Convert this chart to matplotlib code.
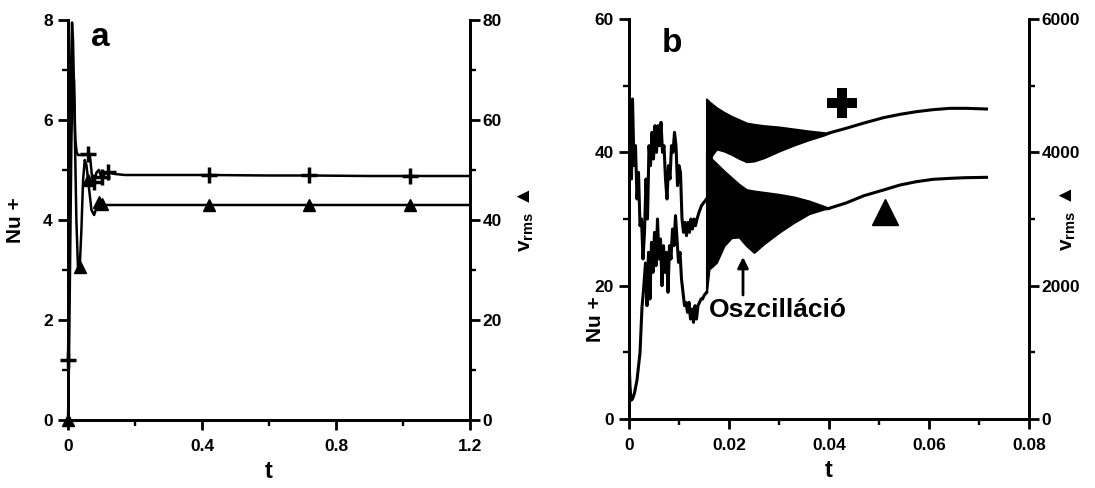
import numpy as np
from matplotlib import pyplot as plt

plt.rcParams['font.family'] = ['Liberation Sans', 'DejaVu Sans']
plt.rcParams['font.weight'] = 'bold'
plt.rcParams['axes.labelweight'] = 'bold'
plt.rcParams['mathtext.default'] = 'bf'

# ---- panel a data ----
t_nu_a = [0, 0.003, 0.006, 0.009, 0.012, 0.015, 0.018, 0.022, 0.026, 0.03, 0.04, 0.05,
          0.06, 0.066, 0.072, 0.078, 0.085, 0.092, 0.1, 0.11, 0.12, 0.14, 0.17, 0.2,
          0.3, 0.42, 0.6, 0.72, 0.9, 1.02, 1.2]
nu_a = [1.2, 2.8, 5.0, 7.0, 7.95, 7.6, 6.6, 5.6, 5.35, 5.3, 5.3, 5.3,
        5.32, 5.25, 4.85, 4.75, 4.95, 5.0, 4.85, 4.92, 4.95, 4.92, 4.9, 4.9,
        4.9, 4.9, 4.89, 4.89, 4.88, 4.88, 4.88]
nu_a_marks = [0, 12, 15, 18, 20, 25, 27, 29]

t_v_a = [0, 0.003, 0.006, 0.01, 0.014, 0.018, 0.021, 0.025, 0.03, 0.035, 0.04, 0.045,
         0.05, 0.055, 0.06, 0.065, 0.07, 0.078, 0.085, 0.092, 0.1, 0.11, 0.12, 0.15,
         0.2, 0.42, 0.72, 1.02, 1.2]
v_a = [0, 12, 30, 55, 70, 68, 55, 40, 30, 30.5, 38, 48,
       52, 51, 48, 45, 42, 41, 42.5, 43.5, 43.2, 43, 43, 43,
       43, 43, 43, 43, 43]
v_a_marks = [0, 9, 14, 19, 20, 25, 26, 27]

# ---- panel b data ----
t_nu_b = [0, 0.0003, 0.0005, 0.0007, 0.001, 0.0013, 0.0016, 0.0019, 0.0022, 0.0025,
          0.0028, 0.0031, 0.0034, 0.0037, 0.004, 0.0043, 0.0046, 0.0049, 0.0052, 0.0055,
          0.0058, 0.0061, 0.0064, 0.0067, 0.007, 0.0073, 0.0076, 0.0079, 0.0082, 0.0085,
          0.0088, 0.0091, 0.0094, 0.0097, 0.01, 0.0103, 0.0106, 0.0109, 0.0112, 0.0115,
          0.0118, 0.0121, 0.0124, 0.0127, 0.013, 0.0133, 0.0136, 0.014, 0.0145, 0.015,
          0.0155]
nu_b = [34, 47, 36, 48, 38, 41, 33, 37, 29, 30,
        24, 28, 36, 30, 41, 38, 43, 39, 44, 40,
        44, 41, 44.5, 40, 41, 36, 33, 38, 36, 41,
        40, 43, 41, 35, 38, 37, 30, 28, 29.5, 27.5,
        29.5, 28, 30, 28.5, 30, 29, 30, 31, 32, 32.5,
        33]

t_v_b = [0, 0.0002, 0.0004, 0.0007, 0.0011, 0.0016, 0.0022, 0.0026, 0.0029, 0.0033,
         0.0036, 0.0039, 0.0042, 0.0045, 0.0048, 0.0051, 0.0054, 0.0057, 0.006, 0.0063,
         0.0066, 0.0069, 0.0072, 0.0075, 0.0078, 0.0081, 0.0084, 0.0087, 0.009, 0.0093,
         0.0096, 0.0099, 0.0102, 0.0105, 0.0108, 0.0111, 0.0114, 0.0117, 0.012, 0.0123,
         0.0126, 0.0129, 0.0132, 0.0135, 0.0138, 0.0141, 0.0144, 0.0147, 0.015, 0.0155]
v_b = [900, 500, 280, 300, 390, 585, 990, 1680, 1930, 2340,
       1700, 2500, 1800, 2650, 2200, 2800, 2300, 3000, 2400, 2700,
       2000, 2600, 2200, 2500, 1900, 2600, 2400, 2850, 2600, 3050,
       2700, 2350, 2500, 2100, 1900, 1700, 1750, 1600, 1750, 1500,
       1650, 1450, 1700, 1500, 1700, 1750, 1800, 1800, 1850, 1900]

# oscillating part: envelopes
t_band = [0.0155, 0.016, 0.0165, 0.0175, 0.019, 0.0205, 0.022, 0.0235, 0.025, 0.027,
          0.03, 0.033, 0.036, 0.039, 0.040]
nu_hi = [48, 47.6, 47.3, 46.7, 46.0, 45.4, 44.9, 44.4, 44.2, 44.0,
         43.8, 43.5, 43.2, 42.95, 42.9]
nu_lo = [33, 36, 39.5, 40.5, 40.2, 39.7, 39.1, 38.6, 38.7, 39.2,
         40.2, 41.1, 41.9, 42.6, 42.9]
v_hi = [4000, 3950, 3900, 3830, 3720, 3620, 3520, 3440, 3420, 3400,
        3370, 3330, 3270, 3190, 3160]
v_lo = [1900, 2250, 2280, 2350, 2600, 2720, 2730, 2600, 2500, 2630,
        2800, 2950, 3080, 3150, 3160]

t_tail = [0.040, 0.0434, 0.047, 0.0509, 0.0542, 0.0575, 0.0608, 0.0642, 0.0675, 0.0715]
nu_tail = [42.9, 43.6, 44.4, 45.2, 45.7, 46.1, 46.4, 46.6, 46.6, 46.5]
v_tail = [3160, 3240, 3350, 3435, 3510, 3560, 3595, 3610, 3620, 3625]

xt_a = [0, 0.4, 0.8, 1.2]
xt_a_lab = ['0', '0.4', '0.8', '1.2']
yt_a = [0, 2, 4, 6, 8]
yt2_a = [0, 20, 40, 60, 80]
xt_b = [0, 0.02, 0.04, 0.06, 0.08]
xt_b_lab = ['0', '0.02', '0.04', '0.06', '0.08']
yt_b = [0, 20, 40, 60]
yt2_b = [0, 2000, 4000, 6000]


def style(ax, right=False):
    ax.spines['top'].set_visible(False)
    for s in ax.spines.values():
        s.set_linewidth(2)
    ax.tick_params(which='major', direction='out', length=7, width=2,
                   labelsize=12.5, pad=4)
    ax.tick_params(which='minor', direction='out', length=4.5, width=1.7)
    if right:
        ax.tick_params(axis='y', pad=2)
    ax.tick_params(axis='x', pad=7)


fig = plt.figure(figsize=(10.95, 4.88), dpi=100)

# ---------- panel a ----------
axa = fig.add_axes([68 / 1095, 68 / 488, 402 / 1095, 400 / 488])
axa2 = axa.twinx()
axa.plot(t_nu_a, nu_a, color='k', lw=1.8, marker='+', ms=12, mew=2.5,
         markevery=nu_a_marks, clip_on=False)
axa2.plot(t_v_a, v_a, color='k', lw=1.8, marker='^', ms=8,
          markevery=v_a_marks, clip_on=False)
axa.set_xlim(0, 1.2)
axa.set_ylim(0, 8)
axa2.set_ylim(0, 80)
axa.set_xticks(xt_a)
axa.set_xticklabels(xt_a_lab)
axa.set_xticks([0.2, 0.6, 1.0], minor=True)
axa.set_yticks(yt_a)
axa.set_yticks([1, 3, 5, 7], minor=True)
axa2.set_yticks(yt2_a)
axa2.set_yticks([10, 30, 50, 70], minor=True)
style(axa)
style(axa2, right=True)
axa.set_xlabel('t', fontsize=17)
axa.xaxis.set_label_coords(0.5, -0.1)
axa.set_ylabel('Nu +', fontsize=15)
axa.yaxis.set_label_coords(-0.107, 0.5)
axa2.set_ylabel(r'v$_{\mathregular{rms}}$ ▲', fontsize=15, rotation=90)
axa2.yaxis.set_label_coords(1.112, 0.5)
axa.text(0.08, 0.955, 'a', transform=axa.transAxes, fontsize=24,
         ha='center', va='center')

# ---------- panel b ----------
axb = fig.add_axes([629 / 1095, 69 / 488, 400 / 1095, 400 / 488])
axb2 = axb.twinx()
axb.plot(t_nu_b, nu_b, color='k', lw=2.2)
axb.fill_between(t_band, nu_lo, nu_hi, color='k', lw=1.5)
axb.plot(t_tail, nu_tail, color='k', lw=2.2)
axb2.plot(t_v_b, v_b, color='k', lw=2.2)
axb2.fill_between(t_band, v_lo, v_hi, color='k', lw=1.5)
axb2.plot(t_tail, v_tail, color='k', lw=2.2)
axb.set_xlim(0, 0.08)
axb.set_ylim(0, 60)
axb2.set_ylim(0, 6000)
axb.set_xticks(xt_b)
axb.set_xticklabels(xt_b_lab)
axb.set_xticks([0.01, 0.03, 0.05, 0.07], minor=True)
axb.set_yticks(yt_b)
axb.set_yticks([10, 30, 50], minor=True)
axb2.set_yticks(yt2_b)
axb2.set_yticks([1000, 3000, 5000], minor=True)
style(axb)
style(axb2, right=True)
axb.set_xlabel('t', fontsize=17)
axb.xaxis.set_label_coords(0.5, -0.1)
axb.set_ylabel('Nu +', fontsize=15)
axb.yaxis.set_label_coords(-0.06, 0.25)
axb2.set_ylabel(r'v$_{\mathregular{rms}}$ ▲', fontsize=15, rotation=90)
axb2.yaxis.set_label_coords(1.07, 0.5)
axb.text(0.1075, 0.94, 'b', transform=axb.transAxes, fontsize=24,
         ha='center', va='center')
axb.plot([0.532], [0.789], transform=axb.transAxes, marker='P', ms=21,
         color='k', mec='k', mew=0, clip_on=False)
axb.plot([0.64], [0.5175], transform=axb.transAxes, marker='^', ms=19,
         color='k', clip_on=False)
axb.annotate('', xy=(0.0228, 24.3), xytext=(0.0228, 18.6),
             arrowprops=dict(arrowstyle='-|>', lw=2, color='k',
                             mutation_scale=16, shrinkA=0, shrinkB=0))
axb.text(0.0298, 16.3, 'Oszcilláció', fontsize=19, ha='center', va='center')

fig.savefig('out.png', dpi=100)
